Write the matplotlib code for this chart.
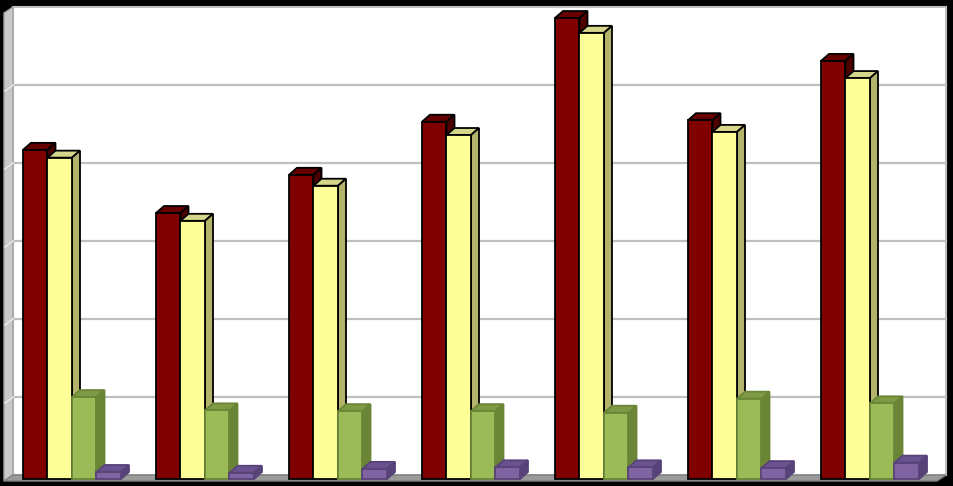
import matplotlib
matplotlib.use("Agg")
import matplotlib.pyplot as plt
from matplotlib.patches import Polygon, Rectangle

# values (front face heights)
groups = [0, 1, 2, 3, 4, 5, 6]
series1 = [42.2, 34.1, 39.0, 45.8, 59.1, 46.0, 53.6]   # dark red
series2 = [41.2, 33.1, 37.6, 44.1, 57.2, 44.5, 51.4]   # light yellow
series3 = [10.5, 8.8, 8.7, 8.7, 8.5, 10.3, 9.7]        # green
series4 = [0.9, 0.8, 1.3, 1.5, 1.5, 1.4, 2.1]          # purple
grid_values = [10, 20, 30, 40, 50]

# front, top, side, edge colours per series
styles = [
    ("#800000", "#660000", "#4d0000", "black"),
    ("#FFFF99", "#D6D68A", "#B3B36B", "black"),
    ("#9BBB59", "#7E9A45", "#6B8536", "#6B8536"),
    ("#8064A2", "#6A5290", "#584378", "#584378"),
]

# layout in pixels
W, H = 954, 486
cx0, gstep = 72, 133      # first group centre, group spacing
base_y, ppu = 479, 7.8    # y pixel of value 0, pixels per value unit


def px(x):
    return (x - cx0) / gstep


def py(y):
    return (base_y - y) / ppu


fig = plt.figure(figsize=(W / 100, H / 100), dpi=100, facecolor="black")
ax = fig.add_axes([0, 0, 1, 1])
ax.set_xlim(px(0), px(W))
ax.set_ylim(py(H), py(0))
ax.axis("off")

# back wall
ax.add_patch(Polygon([(px(13), py(475)), (px(13), py(7)), (px(946), py(7)), (px(946), py(475))],
                     closed=True, facecolor="white", edgecolor="#C0C0C0", lw=1.5, zorder=0))
# left side wall
ax.add_patch(Polygon([(px(4), py(481)), (px(4), py(13)), (px(13), py(7)), (px(13), py(475))],
                     closed=True, facecolor="#C8C8C8", edgecolor="#A0A0A0", lw=1, zorder=0))
# floor
ax.add_patch(Polygon([(px(4), py(481)), (px(13), py(475)), (px(946), py(475)), (px(937), py(481))],
                     closed=True, facecolor="#9A9A9A", edgecolor="#808080", lw=1, zorder=0))

# gridlines on back wall and side wall
shift = py(475)
for g in grid_values:
    ax.plot([px(13), px(946)], [g + shift, g + shift], color="#BFBFBF", lw=1.6, zorder=1)
    ax.plot([px(5), px(13)], [g + shift - 6 / ppu, g + shift], color="#E6E6E6", lw=1.2, zorder=1)

bw = 24.5 / gstep
dx = 8 / gstep
dy = 7 / ppu
all_series = [series1, series2, series3, series4]
for gi, g in enumerate(groups):
    for si, vals in enumerate(all_series):
        front, top, side, edge = styles[si]
        v = vals[gi]
        x0 = g + (si - 2) * bw
        x1 = x0 + bw
        z = 2 + si
        ax.bar(x0, v, width=bw, align="edge", color=front, edgecolor=edge, lw=1.3, zorder=z + 0.2)
        ax.add_patch(Polygon([(x0, v), (x0 + dx, v + dy), (x1 + dx, v + dy), (x1, v)],
                             closed=True, facecolor=top, edgecolor=edge, lw=1.3, zorder=z))
        ax.add_patch(Polygon([(x1, 0), (x1, v), (x1 + dx, v + dy), (x1 + dx, dy)],
                             closed=True, facecolor=side, edgecolor=edge, lw=1.3, zorder=z))

fig.savefig("out.png", dpi=100, facecolor="black")
